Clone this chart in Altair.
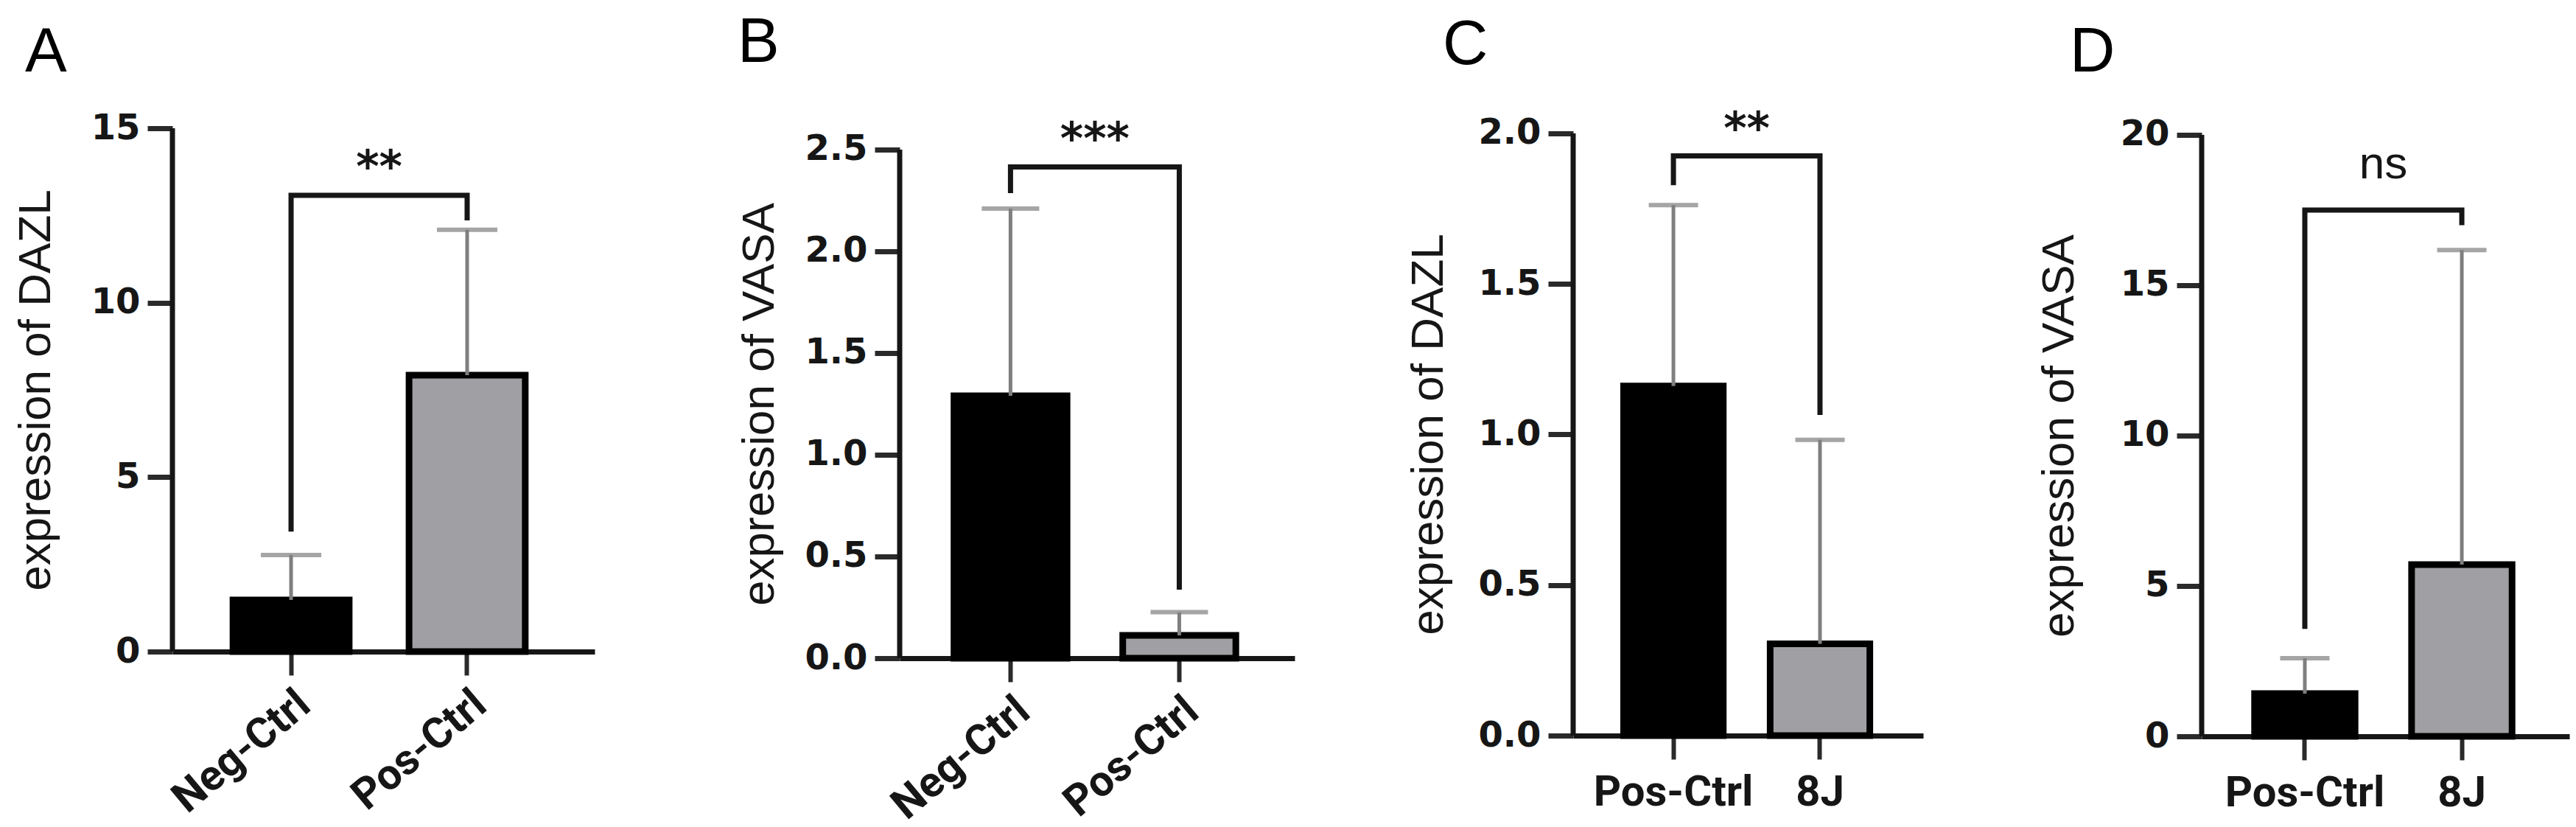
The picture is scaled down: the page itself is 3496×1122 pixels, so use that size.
import altair as alt
import pandas as pd

# ---------------- data ----------------
A_groups = ["Neg-Ctrl", "Pos-Ctrl"]
A_mean = [1.48, 7.92]
A_upper = [2.77, 12.09]
A_ticks = [0, 5, 10, 15]
A_bracket = 13.08
A_legs = [3.44, 12.36]
A_sig = "**"

B_groups = ["Neg-Ctrl", "Pos-Ctrl"]
B_mean = [1.29, 0.112]
B_upper = [2.21, 0.226]
B_ticks = [0.0, 0.5, 1.0, 1.5, 2.0, 2.5]
B_bracket = 2.415
B_legs = [2.286, 0.337]
B_sig = "***"

C_groups = ["Pos-Ctrl", "8J"]
C_mean = [1.161, 0.305]
C_upper = [1.762, 0.982]
C_ticks = [0.0, 0.5, 1.0, 1.5, 2.0]
C_bracket = 1.925
C_legs = [1.828, 1.065]
C_sig = "**"

D_groups = ["Pos-Ctrl", "8J"]
D_mean = [1.42, 5.71]
D_upper = [2.6, 16.17]
D_ticks = [0, 5, 10, 15, 20]
D_bracket = 17.5
D_legs = [3.57, 17.0]
D_sig = "ns"

BAR_FILLS = ["#000000", "#a0a0a4"]   # first bar black, second bar grey
ERR_COLOR = "#7f7f7f"
INK = "#161616"
TICK_FONT = "DejaVu Sans"
XLAB_FONT = "Roboto, 'Liberation Sans', Arial, sans-serif"
TITLE_FONT = "'Liberation Sans', Arial, sans-serif"
STAR_FONT = "DejaVu Sans"


def panel(letter, groups, mean, upper, ticks, fmt, bracket, legs, sig, ytitle,
          width, height, ydom, pi, po, align, cap, label_angle, xlab_size,
          xlab_pad, title_dx, title_offset, ytitle_x, ytitle_y,
          sig_font, sig_size, sig_weight, sig_dy):
    bars = pd.DataFrame({"group": groups, "mean": mean, "upper": upper,
                         "fill": BAR_FILLS})
    br = pd.DataFrame({
        "group": [groups[0], groups[0], groups[1], groups[1]],
        "v": [legs[0], bracket, bracket, legs[1]],
        "o": [0, 1, 2, 3],
    })
    sigdf = pd.DataFrame({"group": [groups[0]], "v": [bracket], "t": [sig]})
    axdf = pd.DataFrame({"group": [groups[0]], "lo": [ticks[0]], "hi": [ticks[-1]]})

    xs = alt.Scale(domain=groups, paddingInner=pi, paddingOuter=po, align=align)
    ys = alt.Scale(domain=[0, ydom], nice=False, zero=True)
    step = width / (2 - pi + 2 * po)
    xaxis = alt.Axis(
        title=None, labelAngle=label_angle, domainWidth=7, domainColor=INK,
        tickSize=32, tickWidth=6, tickColor="#2a2a2a",
        labelFont=XLAB_FONT, labelFontSize=xlab_size, labelFontWeight="bold",
        labelColor=INK, labelPadding=xlab_pad, labelLimit=0,
    )
    yaxis = alt.Axis(
        title=ytitle, values=ticks, format=fmt, domain=False, grid=False,
        tickSize=34, tickWidth=7, tickColor="#2a2a2a",
        labelFont=TICK_FONT, labelFontSize=48, labelFontWeight="bold",
        labelColor=INK, labelPadding=10,
        titleFont=TITLE_FONT, titleFontSize=62, titleFontWeight="normal",
        titleColor=INK, titleX=ytitle_x, titleY=ytitle_y,
        titleBaseline="alphabetic", titleAlign="center", titleAngle=270,
    )

    def X(**kw):
        return alt.X("group:N", scale=xs, axis=xaxis, **kw)

    def Y(field):
        return alt.Y(field, type="quantitative", scale=ys, axis=yaxis)

    bar_layer = alt.Chart(bars).mark_bar(stroke="black", strokeWidth=9).encode(
        x=X(), y=Y("mean"), fill=alt.Fill("fill:N", scale=None),
    )
    err = alt.Chart(bars).mark_rule(color=ERR_COLOR, strokeWidth=5).encode(
        x=X(), y=Y("mean"), y2="upper"
    )
    caps = alt.Chart(bars).mark_tick(color=ERR_COLOR, thickness=6, size=cap).encode(
        x=X(), y=Y("upper")
    )
    yline = alt.Chart(axdf).mark_rule(color=INK, strokeWidth=7).encode(
        x=alt.value(0), y=Y("lo"), y2="hi"
    )
    brk = alt.Chart(br).mark_line(color=INK, strokeWidth=7, strokeJoin="miter",
                                  strokeCap="butt").encode(
        x=X(), y=Y("v"), order="o:Q"
    )
    # text centred between the two bars: end of first band + half the gap
    txt = alt.Chart(sigdf).mark_text(
        font=sig_font, fontSize=sig_size, fontWeight=sig_weight, color=INK,
        baseline="alphabetic", align="center", dy=sig_dy, dx=step * pi / 2,
    ).encode(
        x=X(bandPosition=1), y=Y("v"), text="t:N"
    )
    return alt.layer(bar_layer, err, caps, yline, brk, txt).properties(
        width=width, height=height,
        title=alt.TitleParams(
            text=letter, anchor="start", frame="group", dx=title_dx,
            offset=title_offset, fontSize=85, font=TITLE_FONT,
            fontWeight="normal", color="black",
        ),
    )


pA = panel("A", A_groups, A_mean, A_upper, A_ticks, "d", A_bracket, A_legs, A_sig,
           "expression of DAZL", 573, 710, 15.0, 0.34, 0.369, 0.466, 82, -40, 58, 10,
           -200, 35, -167, 355, STAR_FONT, 60, "bold", -18)
pB = panel("B", B_groups, B_mean, B_upper, B_ticks, ".1f", B_bracket, B_legs, B_sig,
           "expression of VASA", 536, 719, 2.605, 0.33, 0.335, 0.48, 78, -40, 58, 10,
           -220, 59, -172, 374, STAR_FONT, 60, "bold", -17)
pC = panel("C", C_groups, C_mean, C_upper, C_ticks, ".1f", C_bracket, C_legs, C_sig,
           "expression of DAZL", 475, 824, 2.017, 0.32, 0.354, 0.486, 67, 0, 58, 16,
           -177, 42, -178, 415, STAR_FONT, 60, "bold", -17)
pD = panel("D", D_groups, D_mean, D_upper, D_ticks, "d", D_bracket, D_legs, D_sig,
           "expression of VASA", 499, 825, 20.22, 0.36, 0.351, 0.48, 67, 0, 58, 16,
           -179, 44, -175, 417, TITLE_FONT, 62, "normal", -43)

right = alt.hconcat(pB, pC, pD, spacing=378, bounds="flush")
chart = alt.hconcat(pA, right, spacing=414, bounds="flush").properties(
    padding={"left": 17, "top": 16, "right": 4, "bottom": 4},
    background="white",
).configure_view(stroke=None)

chart.save("out.html", embed_options={"renderer": "svg", "actions": False})
